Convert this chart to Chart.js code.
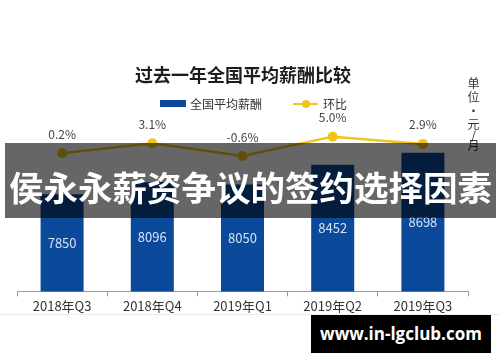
<!DOCTYPE html>
<html>
<head>
<meta charset="utf-8">
<script src="https://cdn.jsdelivr.net/npm/chart.js@4/dist/chart.umd.min.js"></script>
<style>
  html, body { margin:0; padding:0; background:#fff; }
  #wrap { position:relative; width:500px; height:362px; overflow:hidden; background:#fff;
          font-family:"Noto Sans CJK SC", "Noto Sans", sans-serif; }
  #c { position:absolute; left:0; top:0; }
  .abs { position:absolute; white-space:nowrap; }
  #title { left:0; width:486px; top:62px; text-align:center; font-size:18px; font-weight:700; color:#1c1c1c; line-height:24px; }
  .u { left:467px; width:13px; text-align:center; font-size:12px; color:#333; line-height:12px; }
  .lg { font-size:12px; color:#333; line-height:14px; top:97px; }
  #sw1 { left:160px; top:100px; width:26px; height:7px; background:#0b4a9a; }
  #sw2l { left:293px; top:103px; width:25px; height:2px; background:#f3c418; }
  #sw2d { left:302px; top:100px; width:8px; height:8px; border-radius:50%; background:#f3c418; }
  #banner { left:5px; top:143px; width:491px; height:75px; background:rgba(0,0,0,0.6);
            color:#fff; font-size:34.5px; font-weight:700; line-height:75px; padding-top:6px; box-sizing:border-box; text-align:center; }
  #faint { left:0; top:314px; width:500px; height:1px; background:#ececec; }
  #wm { left:311px; top:315px; width:180px; height:38px; background:#000; color:#fff;
        font-family:"Open Sans", "DejaVu Sans", sans-serif; font-weight:700; font-size:17px; line-height:38px; text-align:center; }
</style>
</head>
<body>
<div id="wrap">
  <canvas id="c" width="500" height="362"></canvas>
  <div class="abs" id="title">过去一年全国平均薪酬比较</div>
  <div class="abs" id="sw1"></div>
  <div class="abs lg" style="left:190px;">全国平均薪酬</div>
  <div class="abs" id="sw2l"></div>
  <div class="abs" id="sw2d"></div>
  <div class="abs lg" style="left:323px;">环比</div>
  <div class="abs u" style="top:77px;">单</div>
  <div class="abs u" style="top:91px;">位</div>
  <div class="abs u" style="top:105px;">·</div>
  <div class="abs u" style="top:118px;">元</div>
  <div class="abs u" style="top:129px;">/</div>
  <div class="abs u" style="top:139px;">月</div>
  <div class="abs" id="faint"></div>
  <div class="abs" id="banner">侯永永薪资争议的签约选择因素</div>
  <div class="abs" id="wm">www.in-lgclub.com</div>
</div>
<script>
const categories = ["2018年Q3", "2018年Q4", "2019年Q1", "2019年Q2", "2019年Q3"];
const salary = [7850, 8096, 8050, 8452, 8698];
const qoq = [0.2, 3.1, -0.6, 5.0, 2.9];
const seriesNames = ["全国平均薪酬", "环比"];

const labelPlugin = {
  id: 'valueLabels',
  afterDatasetsDraw(chart) {
    const ctx = chart.ctx;
    const bottom = chart.chartArea.bottom;
    ctx.save();
    ctx.textAlign = 'center';
    ctx.textBaseline = 'middle';
    chart.data.datasets.forEach((ds, di) => {
      const meta = chart.getDatasetMeta(di);
      meta.data.forEach((el, i) => {
        if (ds.type === 'bar') {
          ctx.font = '13px "Noto Sans CJK SC", sans-serif';
          ctx.fillStyle = '#d3e2f4';
          ctx.fillText(String(ds.data[i]), el.x, (el.y + Math.min(el.base, bottom)) / 2);
        } else {
          ctx.font = '12px "Noto Sans CJK SC", sans-serif';
          ctx.fillStyle = '#444';
          ctx.fillText(ds.data[i].toFixed(1) + '%', el.x, el.y - 19);
        }
      });
    });
    ctx.restore();
  }
};

new Chart(document.getElementById('c'), {
  data: {
    labels: categories,
    datasets: [
      { type: 'line', label: seriesNames[1], data: qoq, yAxisID: 'y2', order: 0,
        borderColor: '#f3c418', backgroundColor: '#f3c418', borderWidth: 2.5,
        pointRadius: 5, pointBackgroundColor: '#f3c418', pointBorderWidth: 0, tension: 0 },
      { type: 'bar', label: seriesNames[0], data: salary, yAxisID: 'y', order: 1,
        backgroundColor: '#0b4a9a', categoryPercentage: 1, barPercentage: 0.477 }
    ]
  },
  options: {
    responsive: false,
    animation: false,
    devicePixelRatio: 1,
    layout: { padding: { left: 17, right: 32, top: 120, bottom: 46 } },
    plugins: { legend: { display: false }, title: { display: false }, tooltip: { enabled: false } },
    scales: {
      x: {
        grid: { offset: true, drawOnChartArea: false, drawTicks: true, tickLength: 5, color: '#999' },
        border: { color: '#999', width: 1 },
        ticks: { color: '#333', padding: 2, font: { size: 13, family: '"Noto Sans CJK SC", sans-serif' } }
      },
      y: { display: false, min: 5860, max: 9369 },
      y2: { display: false, min: -39.9, max: 9.83 }
    }
  },
  plugins: [labelPlugin]
});
</script>
</body>
</html>
